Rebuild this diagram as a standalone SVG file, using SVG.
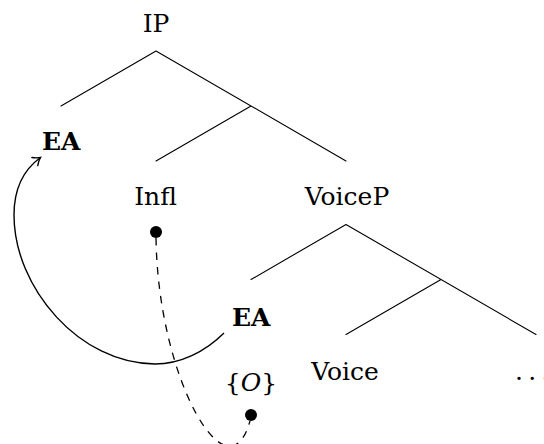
<svg xmlns="http://www.w3.org/2000/svg" width="544" height="444" viewBox="0 0 544 444">
<defs>
<style>
.lbl{font-family:"DejaVu Serif","Liberation Serif",serif;font-size:25px;fill:#000;text-anchor:middle}
.b{font-weight:bold}
.br{stroke:#000;stroke-width:1.1;fill:none;stroke-linecap:round}
.mv{stroke:#000;stroke-width:1.4;fill:none}
.ag{stroke:#000;stroke-width:1.3;fill:none;stroke-dasharray:7.5 7}
.dot{fill:#000}
</style>
<marker id="tip" markerUnits="userSpaceOnUse" viewBox="-10 -10 20 20" refX="0" refY="0" markerWidth="20" markerHeight="20" orient="auto" overflow="visible">
<path d="M-7,-5 Q-3,-1.2 0,0 Q-3,1.2 -7,5" stroke="#000" stroke-width="1.4" fill="none" stroke-linecap="round"/>
</marker>
</defs>
<rect width="544" height="444" fill="#fff"/>
<g id="connectors">
<path class="br" d="M156,51 L61,106 M156,51 L346,161 M251,106 L156,161"/>
<path class="br" d="M346,224.5 L251,279.5 M346,224.5 L536,334.5 M441,279.5 L346,334.5"/>
<path id="movement" class="mv" marker-end="url(#tip)" d="M224,333 C205,352 180,364 155,364 C80,364 14,288 14,215 C14,186 26,168 40.5,157.5"/>
<path id="agree" class="ag" d="M156,238 C158,380 228,500 250,421"/>
</g>
<g id="IP"><text class="lbl" x="156" y="31.5">IP</text></g>
<g id="EA1"><text class="lbl b" x="61.3" y="150">EA</text></g>
<g id="Infl"><text class="lbl" x="155.5" y="205">Infl</text><circle class="dot" cx="156" cy="232" r="6"/></g>
<g id="VoiceP"><text class="lbl" x="347" y="205">VoiceP</text></g>
<g id="EA2"><text class="lbl b" x="251.3" y="326">EA</text></g>
<g id="O"><text class="lbl" x="251" y="391">{<tspan font-style="italic">O</tspan>}</text><circle class="dot" cx="251" cy="415" r="6"/></g>
<g id="Voice"><text class="lbl" x="345" y="380">Voice</text></g>
<g id="dots"><text class="lbl" x="515" y="380" style="text-anchor:start;letter-spacing:5.35px">...</text></g>
</svg>
